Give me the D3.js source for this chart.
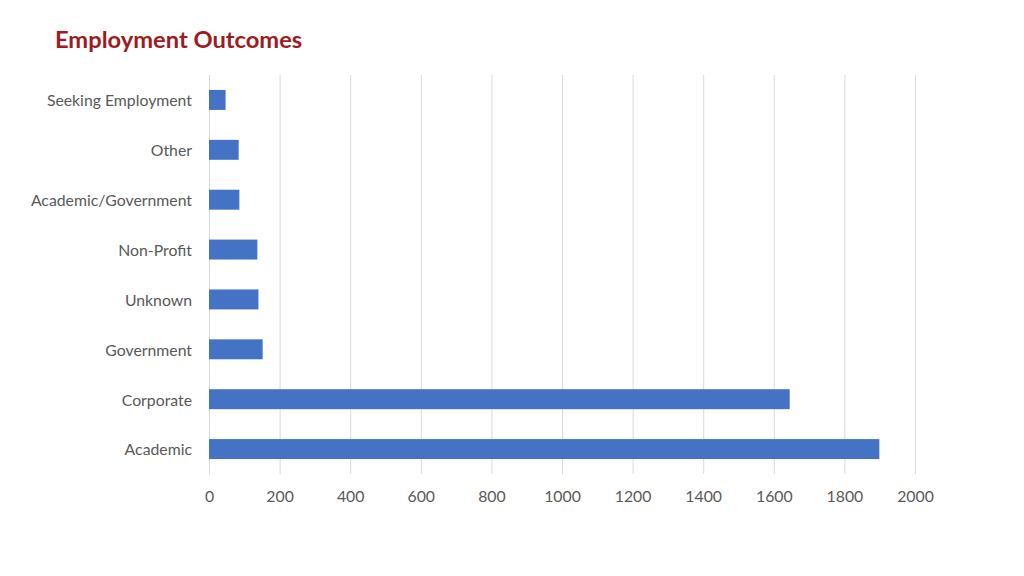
<!DOCTYPE html>
<html>
<head>
<meta charset="utf-8">
<script src="https://cdn.jsdelivr.net/npm/d3@7"></script>
<style>
  body { margin: 0; background: #fff; }
  text { font-family: Lato, "Open Sans", sans-serif; }
</style>
</head>
<body>
<div id="chart"></div>
<script>
// chart data, top to bottom as drawn
var categories = ["Seeking Employment", "Other", "Academic/Government", "Non-Profit", "Unknown", "Government", "Corporate", "Academic"];
var counts = [47, 84, 86, 137, 140, 152, 1645, 1899];
var xTicks = [0, 200, 400, 600, 800, 1000, 1200, 1400, 1600, 1800, 2000];

function drawChart(contId) {
    var w = 1024;
    var h = 576;
    var margin = { top: 75, right: 109, bottom: 102, left: 209 }; //plot area 209..915 x 75..474
    var width = w - margin.left - margin.right;
    var height = h - margin.top - margin.bottom;

    var root = d3.select(contId)
        .append("svg")
        .attr("width", w)
        .attr("height", h);

    root.append("text")
        .attr("x", 55)
        .attr("y", 48)
        .style("font-size", "23.7px")
        .style("font-weight", "bold")
        .style("fill", "#9b1d23")
        .text("Employment Outcomes");

    var svg = root.append("g")
        .attr("transform", "translate(" + margin.left + "," + margin.top + ")");

    var x = d3.scaleLinear().domain([0, 2000]).range([0, width]);
    var y = d3.scaleBand().domain(categories).range([0, height]).paddingInner(0.6).paddingOuter(0.3);

    // vertical gridlines
    svg.append("g")
        .selectAll("line")
        .data(xTicks)
        .enter()
        .append("line")
        .attr("x1", d => x(d) + 0.5)
        .attr("x2", d => x(d) + 0.5)
        .attr("y1", 0)
        .attr("y2", height)
        .style("stroke", "#d9d9d9")
        .style("stroke-width", 1);

    svg.append("g")
        .selectAll("rect")
        .data(categories)
        .enter()
        .append("rect")
        .attr("x", x(0))
        .attr("y", d => y(d))
        .attr("width", (d, i) => x(counts[i]) - x(0))
        .attr("height", y.bandwidth())
        .style("fill", "#4472c4");

    // x tick labels, no thousands separator
    var xAxis = svg.append("g")
        .attr("transform", "translate(0," + height + ")")
        .call(d3.axisBottom(x).tickValues(xTicks).tickFormat(d3.format("d")).tickSize(0).tickPadding(17));
    xAxis.select(".domain").remove();
    xAxis.selectAll("text")
        .style("font-family", "Lato, 'Open Sans', sans-serif")
        .style("font-size", "15.8px")
        .style("fill", "#595959");

    // category labels
    var yAxis = svg.append("g")
        .call(d3.axisLeft(y).tickSize(0).tickPadding(17));
    yAxis.select(".domain").remove();
    yAxis.selectAll("text")
        .attr("dy", "0.4em")
        .style("font-family", "Lato, 'Open Sans', sans-serif")
        .style("font-size", "15.8px")
        .style("fill", "#595959");
}

drawChart("#chart");
</script>
</body>
</html>
